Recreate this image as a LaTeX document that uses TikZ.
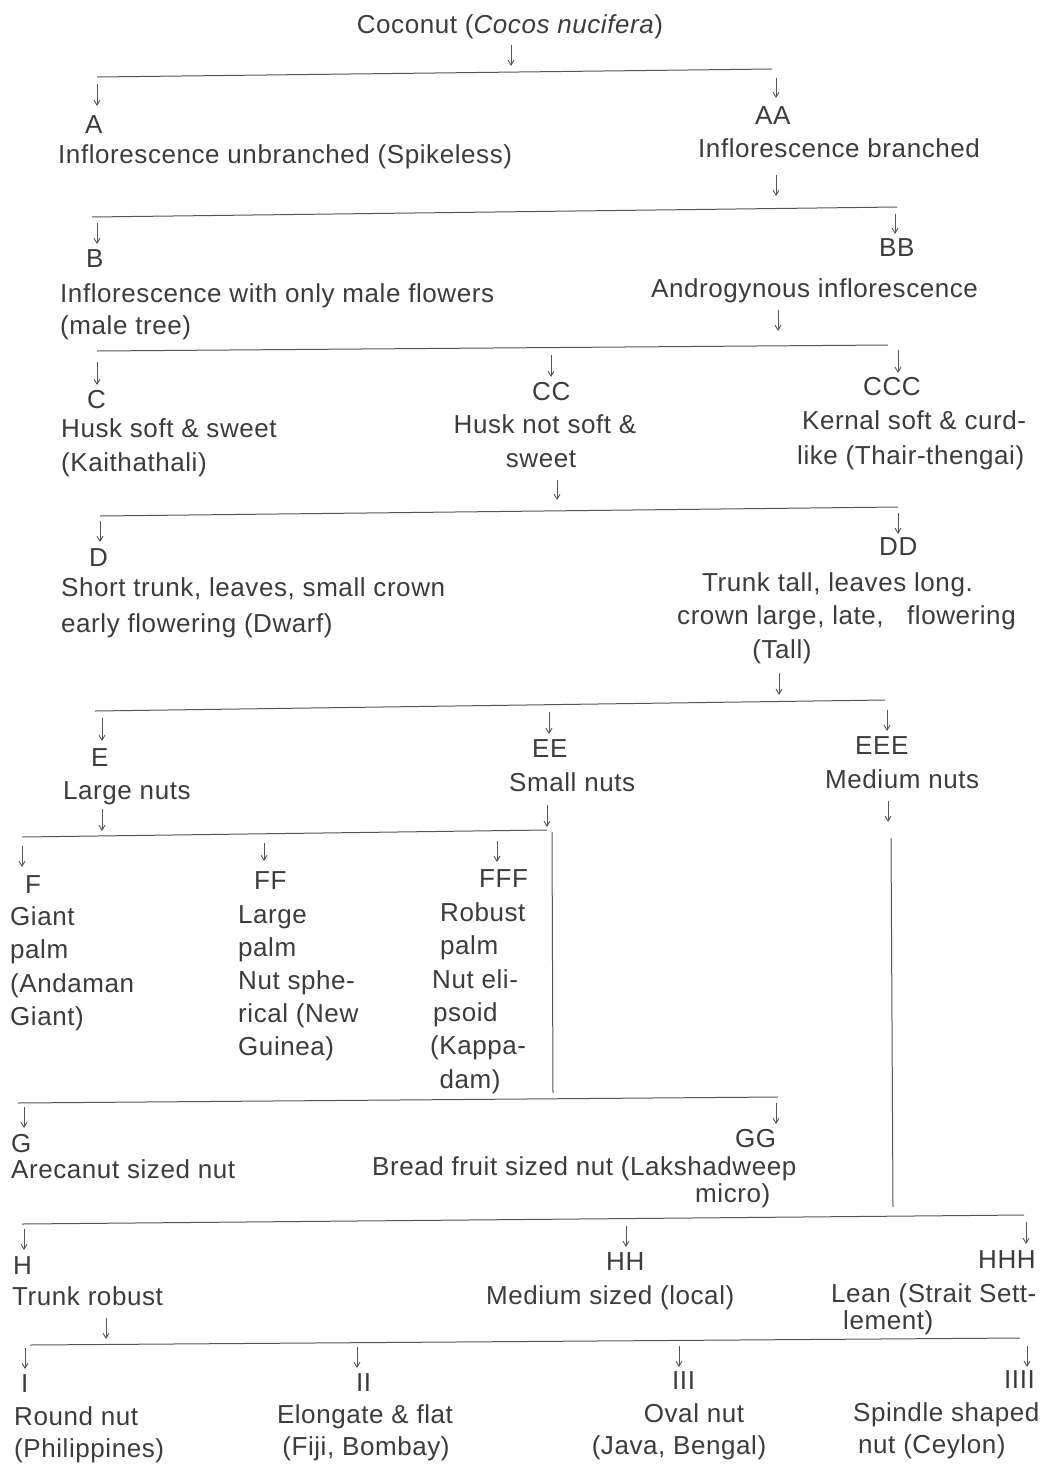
\documentclass[tikz,border=0pt]{standalone}
\usepackage{fontspec}
\setmainfont{Liberation Sans}[LetterSpace=2.2]
\usetikzlibrary{arrows.meta}
\definecolor{ink}{HTML}{3C3C3C}
\definecolor{rulec}{HTML}{555555}
\begin{document}
\begin{tikzpicture}[x=1pt,y=-1pt,
  t/.style={anchor=base west,inner sep=0pt,text=ink,font=\fontsize{26}{33}\selectfont},
  tc/.style={t,anchor=base},
  arr/.style={draw=rulec,line width=0.9pt,-{Straight Barb[length=5pt,width=6pt]}},
  hl/.style={draw=rulec,line width=1pt}]
\fill[white] (0,0) rectangle (1044,1465);
\useasboundingbox (0,0) rectangle (1044,1465);

% ---- level 0
\node[tc] (title) at (510,33) {Coconut (\textit{Cocos nucifera})};
\draw[arr] (511,45) -- (511,66);
\draw[hl] (97,77) coordinate (l1a) -- (772,69) coordinate (l1b);
\draw[arr] (97,84) -- (97,106);
\draw[arr] (776,78) -- (776,98);
\node[t] (nA) at (85,133) {A};
\node[t] (nAA) at (755,124) {AA};
\node[t] (tA) at (58,163) {Inflorescence unbranched (Spikeless)};
\node[t] (tAA) at (698,157) {Inflorescence branched};
\draw[arr] (776,175) -- (776,196);

% ---- level B
\draw[hl] (92,217) coordinate (l2a) -- (897,207) coordinate (l2b);
\draw[arr] (97,223) -- (97,244);
\draw[arr] (895,214) -- (895,234);
\node[t] (nB) at (86,267) {B};
\node[t] (nBB) at (879,256) {BB};
\node[t] (tB1) at (60,302) {Inflorescence with only male flowers};
\node[t] (tB2) at (60,334) {(male tree)};
\node[t] (tBB) at (651,297) {Androgynous inflorescence};
\draw[arr] (778,310) -- (778,331);

% ---- level C
\draw[hl] (97,351) coordinate (l3a) -- (888,345) coordinate (l3b);
\draw[arr] (97,362) -- (97,385);
\draw[arr] (551,355) -- (551,377);
\draw[arr] (898,350) -- (898,373);
\node[t] (nC) at (87,408) {C};
\node[t] (nCC) at (532,400) {CC};
\node[t] (nCCC) at (863,395) {CCC};
\node[t] (tC1) at (61,437) {Husk soft \& sweet};
\node[t] (tC2) at (61,471) {(Kaithathali)};
\node[tc] (tCC1) at (545,433) {Husk not soft \&};
\node[tc] (tCC2) at (541,467) {sweet};
\node[t] (tCCC1) at (802,429) {Kernal soft \& curd-};
\node[t] (tCCC2) at (797,464) {like (Thair-thengai)};
\draw[arr] (557,480) -- (557,500);

% ---- level D
\draw[hl] (100,516) coordinate (l4a) -- (898,507) coordinate (l4b);
\draw[arr] (100,521) -- (100,542);
\draw[arr] (898,513) -- (898,534);
\node[t] (nD) at (89,566) {D};
\node[t] (nDD) at (879,555) {DD};
\node[t] (tD1) at (61,596) {Short trunk, leaves, small crown};
\node[t] (tD2) at (61,632) {early flowering (Dwarf)};
\node[t] (tDD1) at (702,591) {Trunk tall, leaves long.};
\node[t] (tDD2) at (677,624) {crown large, late,\ \ \ flowering};
\node[tc] (tDD3) at (782,658) {(Tall)};
\draw[arr] (779,673) -- (779,695);

% ---- level E
\draw[hl] (95,711) coordinate (l5a) -- (885,700) coordinate (l5b);
\draw[arr] (102,718) -- (102,741);
\draw[arr] (549,712) -- (549,734);
\draw[arr] (887,710) -- (887,731);
\node[t] (nE) at (91,766) {E};
\node[t] (nEE) at (532,757) {EE};
\node[t] (nEEE) at (855,754) {EEE};
\node[t] (tE) at (63,799) {Large nuts};
\node[t] (tEE) at (509,791) {Small nuts};
\node[t] (tEEE) at (825,788) {Medium nuts};
\draw[arr] (102,809) -- (102,831);
\draw[arr] (547,805) -- (547,827);
\draw[arr] (888,801) -- (888,822);

% ---- level F
\draw[hl] (22,837) coordinate (l6a) -- (547,830) coordinate (l6b);
\draw[hl] (552,832) -- (553,1093);
\draw[hl] (891,838) -- (893,1207);
\draw[arr] (22,846) -- (22,867);
\draw[arr] (264,843) -- (264,861);
\draw[arr] (497,841) -- (497,862);
\node[t] (nF) at (25,893) {F};
\node[t] (nFF) at (254,889) {FF};
\node[t] (nFFF) at (479,887) {FFF};
\node[t] (tF1) at (10,925) {Giant};
\node[t] (tF2) at (10,958) {palm};
\node[t] (tF3) at (10,992) {(Andaman};
\node[t] (tF4) at (10,1025) {Giant)};
\node[t] (tFF1) at (238,923) {Large};
\node[t] (tFF2) at (238,956) {palm};
\node[t] (tFF3) at (238,989) {Nut sphe-};
\node[t] (tFF4) at (238,1022) {rical (New};
\node[t] (tFF5) at (238,1055) {Guinea)};
\node[t] (tFFF1) at (440,921) {Robust};
\node[t] (tFFF2) at (440,954) {palm};
\node[t] (tFFF3) at (432,988) {Nut eli-};
\node[t] (tFFF4) at (433,1021) {psoid};
\node[t] (tFFF5) at (430,1054) {(Kappa-};
\node[tc] (tFFF6) at (470,1088) {dam)};

% ---- level G
\draw[hl] (18,1103) coordinate (l7a) -- (778,1097) coordinate (l7b);
\draw[arr] (24,1107) -- (24,1128);
\draw[arr] (776,1103) -- (776,1124);
\node[t] (nG) at (11,1152) {G};
\node[t] (nGG) at (735,1147) {GG};
\node[t] (tG) at (11,1178) {Arecanut sized nut};
\node[t] (tGG1) at (372,1175) {Bread fruit sized nut (Lakshadweep};
\node[t] (tGG2) at (695,1202) {micro)};

% ---- level H
\draw[hl] (22,1224) coordinate (l8a) -- (1024,1215) coordinate (l8b);
\draw[arr] (24,1229) -- (24,1250);
\draw[arr] (626,1226) -- (626,1247);
\draw[arr] (1026,1222) -- (1026,1244);
\node[t] (nH) at (13,1274) {H};
\node[t] (nHH) at (606,1270) {HH};
\node[t] (nHHH) at (978,1268) {HHH};
\node[t] (tH) at (12,1305) {Trunk robust};
\node[t] (tHH) at (486,1304) {Medium sized (local)};
\node[t] (tHHH1) at (831,1302) {Lean (Strait Sett-};
\node[t] (tHHH2) at (843,1329) {lement)};
\draw[arr] (106,1318) -- (106,1339);

% ---- level I
\draw[hl] (30,1345) coordinate (l9a) -- (1020,1338) coordinate (l9b);
\draw[arr] (25,1348) -- (25,1369);
\draw[arr] (357,1347) -- (357,1368);
\draw[arr] (679,1346) -- (679,1367);
\draw[arr] (1027,1346) -- (1027,1367);
\node[t] (nI) at (21,1392) {I};
\node[t] (nII) at (356,1391) {II};
\node[t] (nIII) at (672,1389) {III};
\node[t] (nIIII) at (1004,1388) {IIII};
\node[t] (tI1) at (14,1425) {Round nut};
\node[t] (tI2) at (14,1457) {(Philippines)};
\node[tc] (tII1) at (365,1423) {Elongate \& flat};
\node[tc] (tII2) at (366,1455) {(Fiji, Bombay)};
\node[tc] (tIII1) at (694,1422) {Oval nut};
\node[tc] (tIII2) at (679,1454) {(Java, Bengal)};
\node[t] (tIIII1) at (853,1421) {Spindle shaped};
\node[t] (tIIII2) at (858,1453) {nut (Ceylon)};
\end{tikzpicture}
\end{document}
